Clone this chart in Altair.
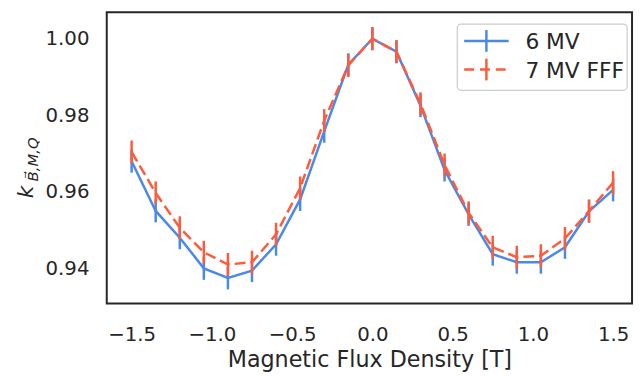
import altair as alt
import pandas as pd

B = [-1.5, -1.35, -1.2, -1.05, -0.9, -0.75, -0.6, -0.45, -0.3, -0.15, 0.0,
     0.15, 0.3, 0.45, 0.6, 0.75, 0.9, 1.05, 1.2, 1.35, 1.5]
k6 = [0.968, 0.955, 0.948, 0.940, 0.9375, 0.9394, 0.9463, 0.958, 0.9758, 0.9932, 1.000,
      0.9966, 0.9825, 0.9657, 0.9541, 0.9437, 0.9416, 0.9416, 0.9455, 0.9549, 0.9605]
k7 = [0.9704, 0.9597, 0.9506, 0.9442, 0.941, 0.9416, 0.9489, 0.961, 0.9786, 0.993, 1.000,
      0.9966, 0.983, 0.967, 0.9545, 0.9455, 0.9429, 0.9433, 0.9478, 0.955, 0.9624]
err6 = [0.003] * len(B)
err7 = [0.003] * len(B)
x_ticks = [-1.5, -1.0, -0.5, 0.0, 0.5, 1.0, 1.5]
y_ticks = [0.94, 0.96, 0.98, 1.00]
series_names = ["6 MV", "7 MV FFF"]

BLUE = "#4a88ea"
RED = "#ff5a3a"
TXT = "#262626"
FONT = "DejaVu Sans"

df = pd.DataFrame({"B": B, "k6": k6, "k7": k7})
df["lo6"] = df["k6"] - pd.Series(err6)
df["hi6"] = df["k6"] + pd.Series(err6)
df["lo7"] = df["k7"] - pd.Series(err7)
df["hi7"] = df["k7"] + pd.Series(err7)

xs = alt.Scale(domain=[-1.655, 1.618], nice=False, zero=False)
ys = alt.Scale(domain=[0.9308, 1.0069], nice=False, zero=False)

xax = alt.Axis(values=x_ticks, format=".1f", grid=False, ticks=False, domain=False,
               labelPadding=21, labelFontSize=20, labelFont=FONT, labelColor=TXT,
               title="Magnetic Flux Density [T]", titleFontSize=22.5, titleFont=FONT,
               titleColor=TXT, titleFontWeight="normal", titlePadding=5)
yax = alt.Axis(values=y_ticks, format=".2f", grid=False, ticks=False, domain=False,
               labelPadding=18, labelFontSize=20, labelFont=FONT, labelColor=TXT,
               title=None)

base = alt.Chart(df)


def series(ycol, lo, hi, color, dash):
    line_kw = dict(color=color, strokeWidth=2.5)
    if dash:
        line_kw["strokeDash"] = [11, 5]
    line = base.mark_line(**line_kw).encode(
        x=alt.X("B:Q", scale=xs, axis=xax),
        y=alt.Y(f"{ycol}:Q", scale=ys, axis=yax),
    )
    bars = base.mark_rule(color=color, strokeWidth=2.5).encode(
        x=alt.X("B:Q", scale=xs),
        y=alt.Y(f"{lo}:Q", scale=ys),
        y2=f"{hi}:Q",
    )
    return line + bars


s6 = series("k6", "lo6", "hi6", BLUE, False)
s7 = series("k7", "lo7", "hi7", RED, True)

one = alt.Chart(pd.DataFrame({"a": [0]}))

# legend (decoration)
leg_box = one.mark_rect(fill="white", fillOpacity=0.85, stroke="#cccccc",
                        strokeWidth=1.2, cornerRadius=4).encode(
    x=alt.value(355), x2=alt.value(527), y=alt.value(12), y2=alt.value(79))
leg_l1 = one.mark_rule(color=BLUE, strokeWidth=2.5).encode(
    x=alt.value(362), x2=alt.value(407), y=alt.value(29))
leg_t1 = one.mark_rule(color=BLUE, strokeWidth=2.5).encode(
    x=alt.value(384.5), y=alt.value(18), y2=alt.value(40))
leg_l2 = one.mark_rule(color=RED, strokeWidth=2.5, strokeDash=[10, 6]).encode(
    x=alt.value(362), x2=alt.value(407), y=alt.value(58))
leg_t2 = one.mark_rule(color=RED, strokeWidth=2.5).encode(
    x=alt.value(384.5), y=alt.value(47), y2=alt.value(69))
leg_s1 = one.mark_text(align="left", baseline="alphabetic", fontSize=22, font=FONT,
                       color=TXT).encode(x=alt.value(424), y=alt.value(37),
                                         text=alt.value(series_names[0]))
leg_s2 = one.mark_text(align="left", baseline="alphabetic", fontSize=22, font=FONT,
                       color=TXT).encode(x=alt.value(424), y=alt.value(67),
                                         text=alt.value(series_names[1]))

# y-axis title k_{B->,M,Q}
yt_k = one.mark_text(angle=270, align="center", baseline="middle", fontSize=22,
                     font=FONT, fontStyle="italic", color=TXT).encode(
    x=alt.value(-82), y=alt.value(182), text=alt.value("k"))
yt_sub = one.mark_text(angle=270, align="center", baseline="middle", fontSize=15,
                       font=FONT, fontStyle="italic", color=TXT).encode(
    x=alt.value(-75), y=alt.value(149), text=alt.value("B\u20d7,M,Q"))

chart = alt.layer(s6, s7, leg_box, leg_l1, leg_t1, leg_l2, leg_t2, leg_s1, leg_s2,
                  yt_k, yt_sub).properties(
    width=532, height=295, autosize="none",
    padding={"left": 100, "top": 2, "right": 3, "bottom": 70},
).configure(background="white").configure_view(stroke=TXT, strokeWidth=2)

chart.save("out.html", embed_options={"renderer": "svg", "actions": False})
